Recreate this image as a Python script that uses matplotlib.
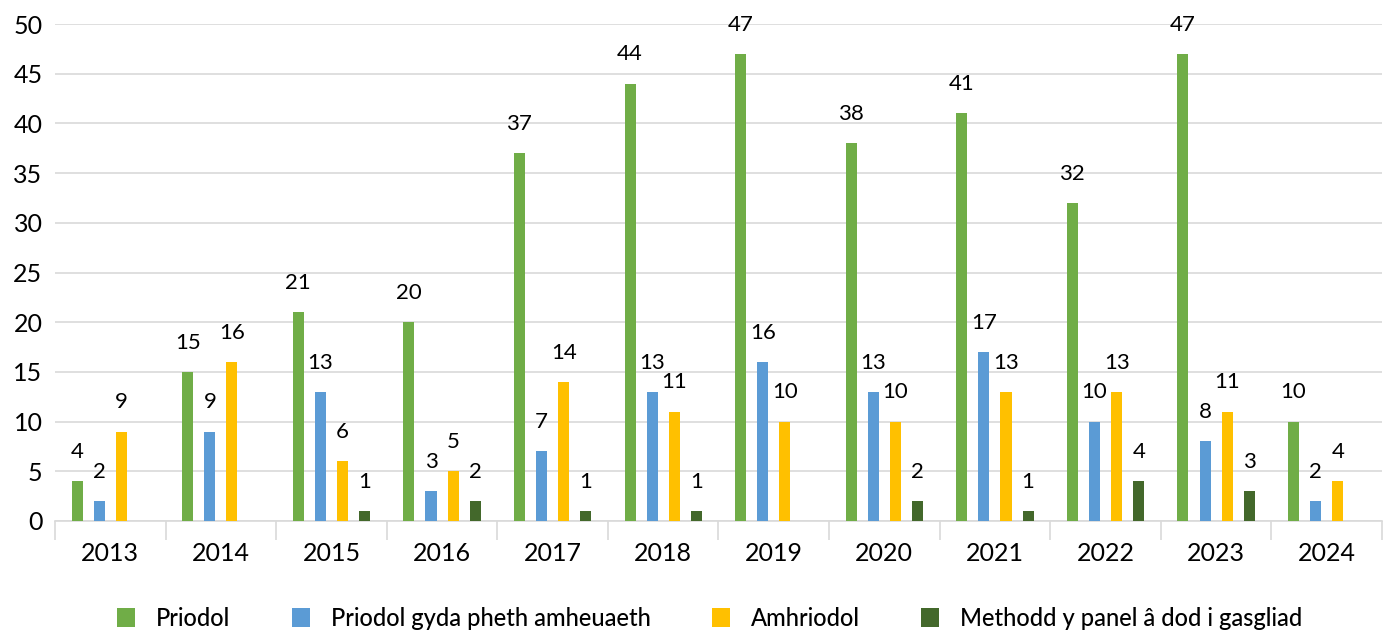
import matplotlib
matplotlib.use("Agg")
import matplotlib.pyplot as plt
import numpy as np
from matplotlib.patches import Patch

years = ["2013", "2014", "2015", "2016", "2017", "2018", "2019", "2020", "2021", "2022", "2023", "2024"]
series_names = ["Priodol", "Priodol gyda pheth amheuaeth", "Amhriodol", "Methodd y panel â dod i gasgliad"]
priodol = [4, 15, 21, 20, 37, 44, 47, 38, 41, 32, 47, 10]
priodol_amheuaeth = [2, 9, 13, 3, 7, 13, 16, 13, 17, 10, 8, 2]
amhriodol = [9, 16, 6, 5, 14, 11, 10, 10, 13, 13, 11, 4]
methodd = [0, 0, 1, 2, 1, 1, 0, 2, 1, 4, 3, 0]
colors = ["#70AD47", "#5B9BD5", "#FFC000", "#43682B"]

plt.rcParams['font.family'] = ['Lato', 'DejaVu Sans']

fig = plt.figure(figsize=(13.92, 6.34), dpi=100)
ax = fig.add_axes([55/1392, 1 - 521/634, (1382 - 55)/1392, (521 - 24)/634])

x = np.arange(len(years))
all_series = [priodol, priodol_amheuaeth, amhriodol, methodd]
offsets = [-0.3, -0.1, 0.1, 0.3]
bw = 0.1
for vals, off, col in zip(all_series, offsets, colors):
    vals = np.array(vals)
    mask = vals > 0
    ax.bar(x[mask] + off, vals[mask], width=bw, color=col, zorder=3)
    for xi, v in zip(x[mask] + off, vals[mask]):
        ax.annotate(str(v), (xi, v), xytext=(0, 21), textcoords="offset points",
                    ha="center", va="center", fontsize=16, color="#000000")

ax.set_xlim(-0.5, len(years) - 0.5)
ax.set_ylim(0, 50)
ax.set_yticks(np.arange(0, 51, 5))
ax.yaxis.grid(True, color="#D9D9D9", linewidth=1.2, zorder=0)
ax.set_axisbelow(True)
for s in ["top", "right", "left"]:
    ax.spines[s].set_visible(False)
ax.spines["bottom"].set_color("#D9D9D9")
ax.spines["bottom"].set_linewidth(1.2)
ax.tick_params(axis="y", length=0, pad=9, labelsize=18)
ax.set_xticks(x)
ax.set_xticklabels(years)
ax.tick_params(axis="x", which="major", length=0, pad=15, labelsize=18)
ax.set_xticks(np.arange(-0.5, len(years), 1.0), minor=True)
ax.tick_params(axis="x", which="minor", length=14, width=1.2, color="#D9D9D9")

handles = [Patch(facecolor=c, edgecolor="none") for c in colors]
fig.legend(handles, series_names, loc="center", bbox_to_anchor=(0.51, 1 - 618/634),
           ncol=4, frameon=False, prop={"size": 17, "weight": "medium"},
           handlelength=0.75, handleheight=0.9,
           columnspacing=2.6, handletextpad=0.9)

fig.savefig("out.png", dpi=100)
